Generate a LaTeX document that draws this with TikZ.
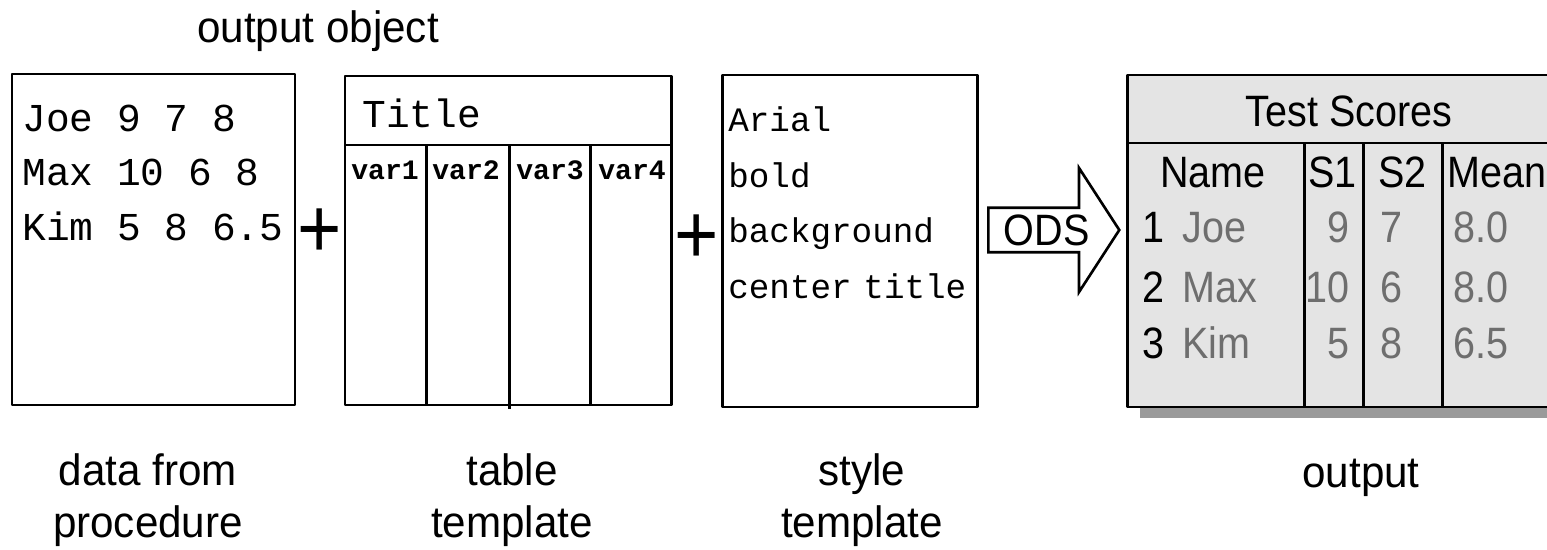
\documentclass[tikz,border=0pt]{standalone}
\usepackage{fontspec}
\setmainfont{Liberation Sans}
\setmonofont{Liberation Mono}
\newfontfamily\narrowsf[FakeStretch=0.9]{Liberation Sans}
\newfontfamily\capsf[FakeStretch=0.96]{Liberation Sans}
\usetikzlibrary{shapes.arrows}
\definecolor{tablegray}{HTML}{E4E4E4}
\definecolor{shadowgray}{HTML}{9A9A9A}
\definecolor{valgray}{HTML}{6E6E6E}
\tikzset{
  tplbox/.style={line width=1.7pt, line join=round},
  caption/.style={font=\capsf\fontsize{25}{30}\selectfont, align=center, inner sep=0pt},
  datatext/.style={font=\ttfamily\fontsize{22.5}{26}\selectfont, anchor=base west, inner sep=0pt},
  vartext/.style={font=\ttfamily\bfseries\fontsize{16}{19}\selectfont, anchor=base west, inner sep=0pt},
  styletext/.style={font=\ttfamily\fontsize{19.5}{23}\selectfont, anchor=base west, inner sep=0pt},
  cell/.style={font=\narrowsf\fontsize{25}{30}\selectfont, anchor=base west, inner sep=0pt},
  val/.style={cell, text=valgray},
  plus/.style={font=\narrowsf\fontsize{48}{48}\selectfont, inner sep=0pt},
}
\begin{document}
\begin{tikzpicture}[x=0.02cm, y=-0.02cm]
\useasboundingbox (0,0) rectangle (1547,550);
\node[caption, anchor=base west] (objlbl) at (197,43) {output object};
%
% data from the procedure
%
\draw[tplbox] (12,74) rectangle (295,405);
\node[datatext] (joe) at (22,132) {Joe 9 7 8};
\node[datatext] (max) at (22,186) {Max 10 6 8};
\node[datatext] (kim) at (22,241) {Kim 5 8 6.5};
\node[plus] (plusa) at (320,233) {+};
%
% table template
%
\draw[tplbox] (345,76) rectangle (671,405);
\draw[tplbox] (345,145) -- (671,145);
\draw[tplbox] (426,145) -- (426,405);
\draw[tplbox] (509,145) -- (509,409);
\draw[tplbox] (590,145) -- (590,405);
\node[datatext] (ttl) at (362,128) {Title};
\foreach \v/\x in {1/351,2/432,3/516,4/598}
  \node[vartext] (var\v) at (\x,180) {var\v};
\node[plus] (plusb) at (697,239) {+};
%
% style template
%
\draw[tplbox] (722,75) rectangle (977,407);
\node[styletext] (arial) at (728,132) {Arial};
\node[styletext] (bold) at (728,188) {bold};
\node[styletext] (bkgd) at (728,243) {background};
\node[styletext] (ctitle) at (728,298) {center\hspace{-5pt} title};
%
% ODS
%
\node[draw, line width=1.5pt, single arrow, single arrow head extend=0.6cm,
  single arrow tip angle=114, minimum height=2.62cm, minimum width=2.48cm,
  inner sep=0pt, anchor=tail, font=\narrowsf\fontsize{25}{28}\selectfont] (ods) at (987,230) {ODS};
%
% output
%
\fill[shadowgray] (1140,86) rectangle (1570,418);
\draw[tplbox, fill=tablegray] (1127,75) rectangle (1570,407);
\draw[tplbox] (1127,143) -- (1570,143);
\foreach \x in {1304,1363,1442}
  \draw[tplbox] (\x,143) -- (\x,407);
\node[cell, anchor=base] (tscores) at (1349,127) {Test Scores};
\node[cell] (hname) at (1160,188) {Name};
\node[cell] (hsa) at (1308,188) {S1};
\node[cell] (hsb) at (1378,188) {S2};
\node[cell] (hmean) at (1447,188) {Mean};
\foreach \n/\who/\sa/\sb/\m/\y in {1/Joe/9/7/8.0/243, 2/Max/10/6/8.0/302, 3/Kim/5/8/6.5/358}{
  \node[cell] (num\n) at (1142,\y) {\n};
  \node[val] (who\n) at (1182,\y) {\who};
  \node[val, anchor=base east] (sa\n) at (1350,\y) {\sa};
  \node[val] (sb\n) at (1380,\y) {\sb};
  \node[val] (mean\n) at (1453,\y) {\m};
}
%
% captions
%
\node[caption, anchor=north] (cdata) at (148,453) {data from\\procedure};
\node[caption, anchor=north] (ctable) at (512,453) {table\\template};
\node[caption, anchor=north] (cstyle) at (862,453) {style\\template};
\node[caption, anchor=base] (cout) at (1361,487) {output};
\end{tikzpicture}
\end{document}
